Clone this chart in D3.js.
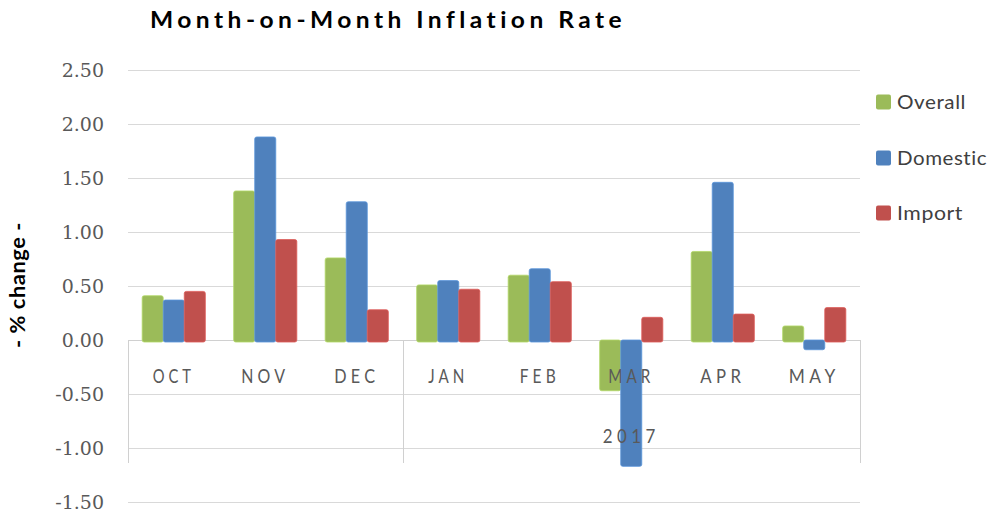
<!DOCTYPE html>
<html lang="en">
<head>
    <meta charset="UTF-8">
    <title>Month-on-Month Inflation Rate</title>
    <style>
        body { margin: 0; background: #fff; }
        svg { display: block; }
        .grid line { stroke: #d9d9d9; stroke-width: 1; }
        .ytick { font-family: "DejaVu Serif", serif; font-size: 19px; fill: #595959; }
        .cat { font-family: Lato, "Liberation Sans", sans-serif; font-size: 19px; fill: #595959; letter-spacing: 5px; }
        .legend text { font-family: Lato, "Liberation Sans", sans-serif; font-size: 19px; fill: #404040; letter-spacing: 0.5px; }
        .title { font-family: Lato, "Liberation Sans", sans-serif; font-size: 22px; font-weight: bold; fill: #000; letter-spacing: 4px; }
        .ylab { font-family: Lato, "Liberation Sans", sans-serif; font-size: 20px; font-weight: bold; fill: #000; letter-spacing: 0.5px; }
    </style>
</head>
<body>
<svg id="chart"></svg>
<script src="https://cdnjs.cloudflare.com/ajax/libs/d3/7.8.5/d3.min.js"></script>
<script>
    var width = 990;
    var height = 513;

    // data
    var months = ["OCT", "NOV", "DEC", "JAN", "FEB", "MAR", "APR", "MAY"];
    var series = ["Overall", "Domestic", "Import"];
    var overall  = [0.41, 1.38, 0.76, 0.51, 0.60, -0.47, 0.82, 0.13];
    var domestic = [0.37, 1.88, 1.28, 0.55, 0.66, -1.17, 1.46, -0.09];
    var imports  = [0.45, 0.93, 0.28, 0.47, 0.54, 0.21, 0.24, 0.30];
    var yTicks = [2.5, 2.0, 1.5, 1.0, 0.5, 0.0, -0.5, -1.0, -1.5];
    var yearLabel = "2017";
    var yearStart = 3; // JAN is first month of 2017
    var colors = ["#9bbb59", "#4f81bd", "#c0504d"];

    var values = [overall, domestic, imports];
    var rows = months.map(function(m, i) {
        return { month: m, vals: series.map(function(s, j) { return { key: s, v: values[j][i], c: colors[j] }; }) };
    });

    // plot area (don't call these top/left, window.top is taken)
    var plotL = 128, plotR = 860, plotT = 70, plotB = 502;

    var x0 = d3.scaleBand().domain(months).range([plotL, plotR]).paddingInner(0.31).paddingOuter(0.155);
    var x1 = d3.scaleBand().domain(series).range([0, x0.bandwidth()]);
    var y = d3.scaleLinear().domain([-1.5, 2.5]).range([plotB, plotT]);

    var fmt = function(d) { return (d < 0 ? "-" : "") + d3.format(".2f")(Math.abs(d)); };

    var svg = d3.select("#chart").attr("width", width).attr("height", height);

    // squeeze a letter spaced text to a given width, like the excel text
    function fit(sel, w) {
        sel.attr("textLength", w).attr("lengthAdjust", "spacingAndGlyphs");
    }

    // title
    svg.append("text")
        .attr("class", "title")
        .attr("x", 150).attr("y", 28)
        .text("Month-on-Month Inflation Rate")
        .call(fit, 476);

    // y label
    svg.append("text")
        .attr("class", "ylab")
        .attr("transform", "translate(25,285) rotate(-90)")
        .attr("x", -63)
        .text("- % change -")
        .call(fit, 126);

    // gridlines
    svg.append("g").attr("class", "grid")
        .selectAll("line").data(yTicks.filter(function(d) { return d !== 0; }))
        .enter().append("line")
        .attr("x1", plotL).attr("x2", plotR)
        .attr("y1", function(d) { return Math.round(y(d)) + 0.5; })
        .attr("y2", function(d) { return Math.round(y(d)) + 0.5; });

    // y tick labels
    svg.append("g").selectAll("text").data(yTicks).enter().append("text")
        .attr("class", "ytick")
        .attr("x", 104).attr("y", function(d) { return y(d); })
        .attr("dy", "0.38em")
        .attr("text-anchor", "end")
        .text(fmt);

    // category axis box
    var axisG = svg.append("g").attr("class", "grid");
    var boxBottom = 463;
    axisG.append("line")
        .attr("x1", plotL).attr("x2", plotR)
        .attr("y1", Math.round(y(0)) + 0.5).attr("y2", Math.round(y(0)) + 0.5)
        .style("stroke", "#d0d0d0");
    var step = x0.step();
    [plotL, plotL + step * yearStart, plotR].forEach(function(xv) {
        axisG.append("line")
            .attr("x1", Math.round(xv) + 0.5).attr("x2", Math.round(xv) + 0.5)
            .attr("y1", y(0)).attr("y2", boxBottom)
            .style("stroke", "#d0d0d0");
    });

    // bars
    var groups = svg.append("g").selectAll("g").data(rows).enter().append("g")
        .attr("transform", function(d) { return "translate(" + x0(d.month) + ",0)"; });
    groups.selectAll("rect").data(function(d) { return d.vals; }).enter().append("rect")
        .attr("x", function(d) { return x1(d.key); })
        .attr("width", x1.bandwidth())
        .attr("y", function(d) { return d.v >= 0 ? y(d.v) : y(0); })
        .attr("height", function(d) { return Math.abs(y(d.v) - y(0)) + (d.v >= 0 ? 2 : 0); })
        .attr("rx", 2)
        .style("fill", function(d) { return d.c; })
        .style("stroke", function(d) { return d3.color(d.c).brighter(0.4); })
        .style("stroke-width", 0.8);

    // month labels
    var catWidths = { OCT: 42, NOV: 48, DEC: 45, JAN: 40, FEB: 40, MAR: 46, APR: 45, MAY: 51 };
    svg.append("g").selectAll("text").data(months).enter().append("text")
        .attr("class", "cat")
        .attr("x", function(d) { return x0(d) + x0.bandwidth() / 2 - catWidths[d] / 2; })
        .attr("y", 383)
        .text(function(d) { return d; })
        .each(function(d) { d3.select(this).call(fit, catWidths[d]); });

    // year label
    var yearCenter = (plotL + step * yearStart + plotR) / 2;
    svg.append("text")
        .attr("class", "cat")
        .attr("x", yearCenter - 28.5).attr("y", 443)
        .text(yearLabel)
        .call(fit, 57);

    // legend
    var legendY = [102, 158, 213];
    var legendW = [69, 90, 66];
    var lg = svg.append("g").attr("class", "legend").selectAll("g").data(series).enter().append("g")
        .attr("transform", function(d, i) { return "translate(876," + legendY[i] + ")"; });
    lg.append("rect")
        .attr("x", 0).attr("y", -7.5).attr("width", 15).attr("height", 15).attr("rx", 2)
        .style("fill", function(d, i) { return colors[i]; });
    lg.append("text")
        .attr("x", 21).attr("y", 0).attr("dy", "0.36em")
        .text(function(d) { return d; })
        .each(function(d, i) { d3.select(this).call(fit, legendW[i]); });
</script>
</body>
</html>
